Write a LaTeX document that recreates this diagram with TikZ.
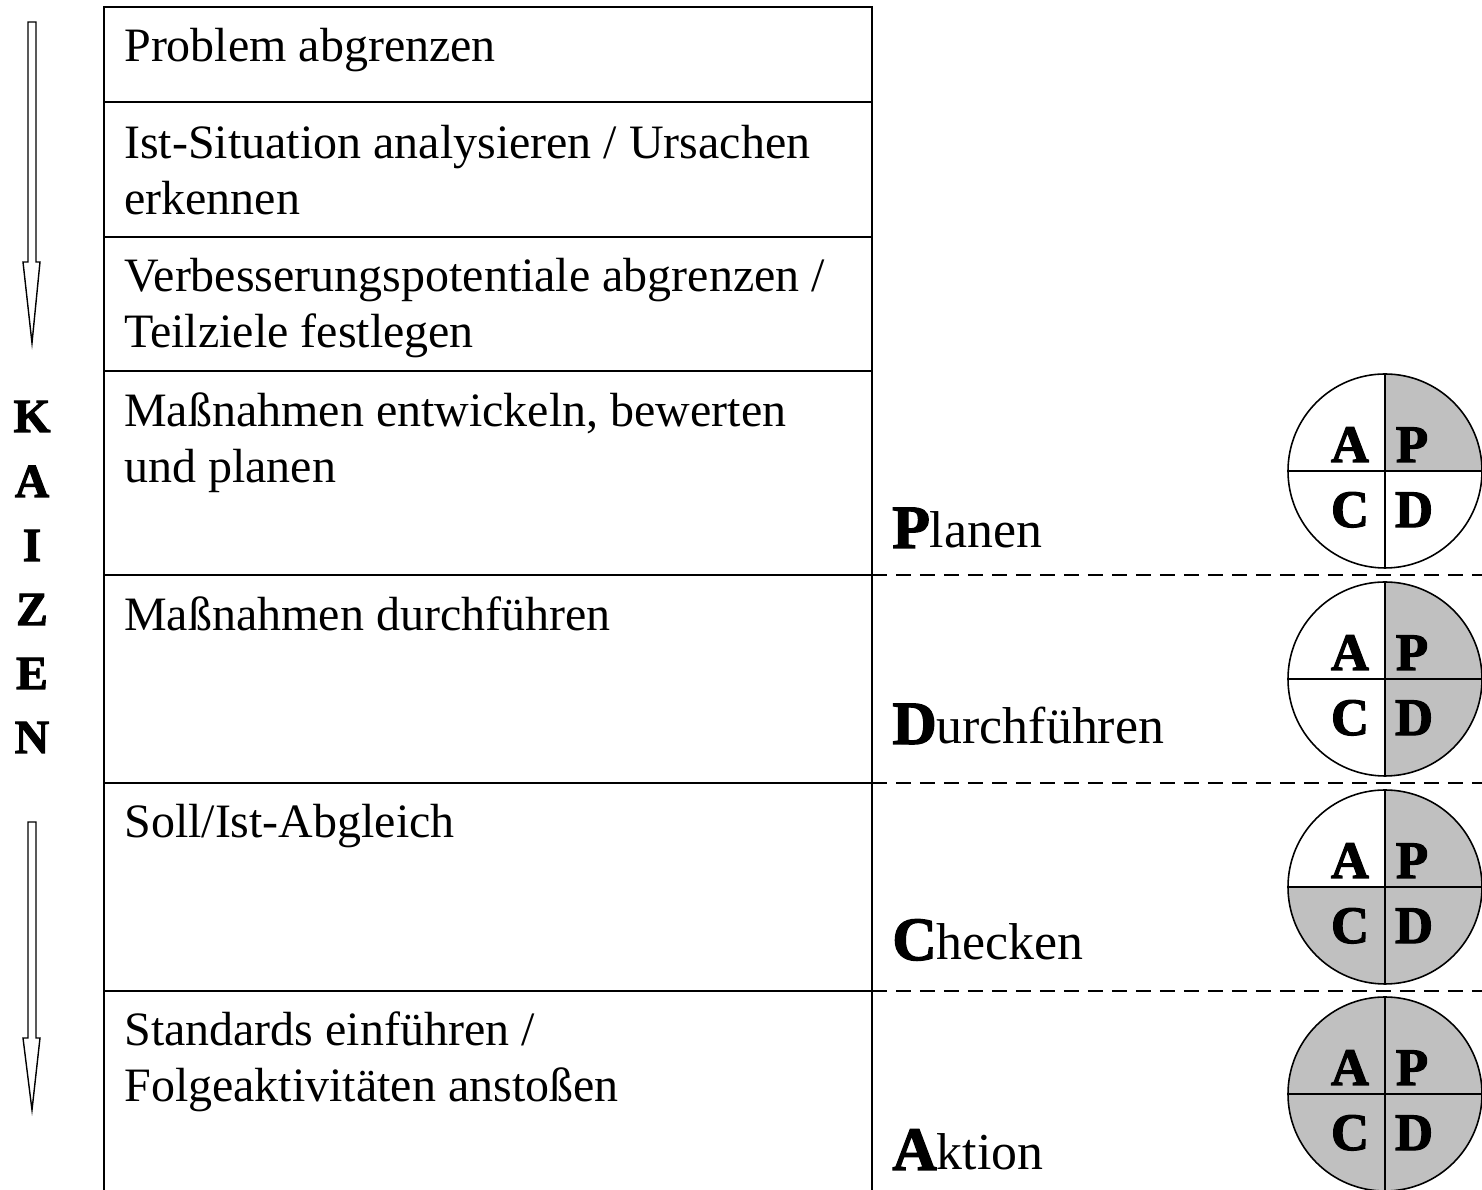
\documentclass[tikz,border=0pt]{standalone}
\usepackage{fontspec}
\setmainfont{Liberation Serif}[BoldFont={Liberation Serif/B}, BoldFeatures={FakeBold=2.2}]
\usepackage{xcolor}
\definecolor{pdcagray}{RGB}{192,192,192}

\begin{document}
\begin{tikzpicture}[x=0.02cm,y=0.02cm,
  rowtext/.style={anchor=base west,inner sep=0pt,align=left,font=\fontsize{27.3}{32.4}\selectfont},
  phasetext/.style={anchor=base west,inner sep=0pt,font=\fontsize{29.5}{34}\selectfont},
  kaizenletter/.style={anchor=base,inner sep=0pt,font=\bfseries\fontsize{27}{30}\selectfont},
  pdcaletter/.style={anchor=base,inner sep=0pt,font=\bfseries\fontsize{30}{34}\selectfont}]

% Page
\useasboundingbox (0,0) rectangle (1482,1190);

% Table frame
\draw[line width=1.4pt] (104,0) -- (104,1183) -- (872,1183) -- (872,0);

% Row lines
\foreach \y in {1088,953,819}{
\draw[line width=1.4pt] (104,\y) -- (872,\y);
}
\foreach \y in {615,407,199}{
\draw[line width=1.4pt] (104,\y) -- (872,\y);
\draw[line width=1.2pt, dash pattern=on 0.3cm off 0.18cm] (872,\y) -- (1482,\y);
}

% Row texts (base = last line)
\node[rowtext] (r1) at (124,1128) {Problem abgrenzen};
\node[rowtext] (r2) at (124,975) {Ist-Situation analysieren / Ursachen\\erkennen};
\node[rowtext] (r3) at (124,842) {Verbesserungspotentiale abgrenzen /\\Teilziele festlegen};
\node[rowtext] (r4) at (124,707) {Maßnahmen entwickeln, bewerten\\und planen};
\node[rowtext] (r5) at (124,559) {Maßnahmen durchführen};
\node[rowtext] (r6) at (124,352) {Soll/Ist-Abgleich};
\node[rowtext] (r7) at (124,88) {Standards einführen /\\Folgeaktivitäten anstoßen};

% Phases
\node[phasetext] (plan) at (892,642) {{\bfseries\fontsize{35}{38}\selectfont P}lanen};
\node[phasetext] (do) at (892,446) {{\bfseries\fontsize{35}{38}\selectfont D}urchführen};
\node[phasetext] (check) at (892,230) {{\bfseries\fontsize{35}{38}\selectfont C}hecken};
\node[phasetext] (act) at (892,20) {{\bfseries\fontsize{35}{38}\selectfont A}ktion};

% KAIZEN
\foreach \ch/\y in {K/758, A/693, I/629, Z/565, E/501, N/437}{
\node[kaizenletter] (kz\ch) at (32,\y) {\ch};
}

% Arrows
\draw[line width=0.8pt] (28,1168) -- (36,1168) -- (36,928) -- (40,928) -- (32,847)
  -- (23,928) -- (28,928) -- cycle;
\draw[line width=0.8pt] (28,368) -- (36,368) -- (36,152) -- (40,152) -- (32,80)
  -- (23,152) -- (28,152) -- cycle;

% PDCA circles: n = number of grey quarters (P, D, C, A in turn)
\foreach \n/\cy in {1/719, 2/511, 3/303, 4/96}{
\coordinate (c\n) at (1385,\cy);
\foreach \k in {1,...,\n}{
\fill[pdcagray] (c\n) -- ++({90-90*\k}:97) arc[start angle={90-90*\k}, delta angle=90, radius=97] -- cycle;
}
\draw[line width=0.9pt] (c\n) circle[radius=97];
\draw[line width=0.9pt] ([yshift=97*0.02cm]c\n) -- ([yshift=-97*0.02cm]c\n);
\draw[line width=0.9pt] ([xshift=-97*0.02cm]c\n) -- ([xshift=97*0.02cm]c\n);
\node[pdcaletter] (a\n) at ([shift={(-35,9)}]c\n) {A};
\node[pdcaletter] (p\n) at ([shift={(27,9)}]c\n) {P};
\node[pdcaletter] (cc\n) at ([shift={(-35,-56)}]c\n) {C};
\node[pdcaletter] (d\n) at ([shift={(29,-56)}]c\n) {D};
}

\end{tikzpicture}
\end{document}
